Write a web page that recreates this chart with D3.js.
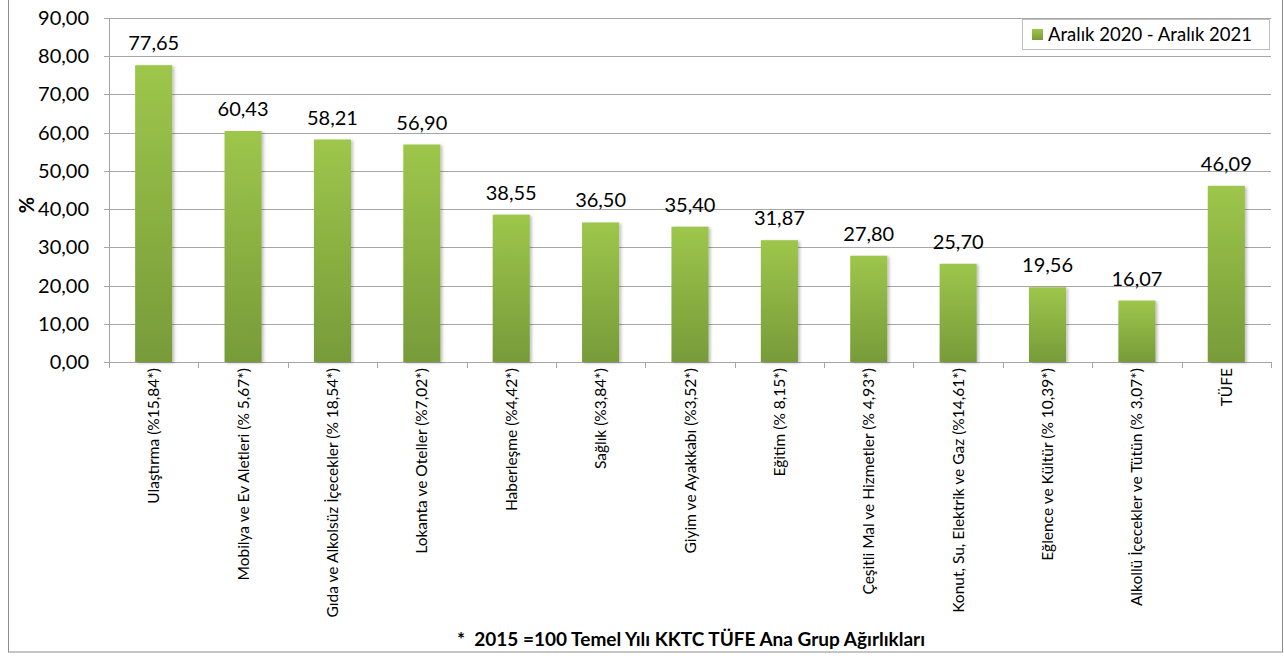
<!DOCTYPE html>
<html lang="tr">
<head>
<meta charset="UTF-8">
<title>KKTC TÜFE Ana Gruplar</title>
<script src="https://cdn.jsdelivr.net/npm/d3@7/dist/d3.min.js"></script>
<style>
  body { margin: 0; background: #fff; }
  svg text { font-family: Lato, "Open Sans", sans-serif; fill: #000; }
</style>
</head>
<body>
<svg id="chart" width="1284" height="656"></svg>
<script>
const categories = [
  "Ulaştırma (%15,84*)",
  "Mobilya ve Ev Aletleri (% 5,67*)",
  "Gıda ve Alkolsüz İçecekler (% 18,54*)",
  "Lokanta ve Oteller (%7,02*)",
  "Haberleşme (%4,42*)",
  "Sağlık (%3,84*)",
  "Giyim ve Ayakkabı (%3,52*)",
  "Eğitim (% 8,15*)",
  "Çeşitli Mal ve Hizmetler (% 4,93*)",
  "Konut, Su, Elektrik ve Gaz (%14,61*)",
  "Eğlence ve Kültür (% 10,39*)",
  "Alkollü İçecekler ve Tütün (% 3,07*)",
  "TÜFE"
];
const values = [77.65, 60.43, 58.21, 56.90, 38.55, 36.50, 35.40, 31.87, 27.80, 25.70, 19.56, 16.07, 46.09];
const yTicks = [0, 10, 20, 30, 40, 50, 60, 70, 80, 90];
const seriesName = "Aralık 2020 - Aralık 2021";
const footnote = "*\u00a0\u00a02015 =100 Temel Yılı KKTC TÜFE Ana Grup Ağırlıkları";

const svg = d3.select("#chart");
const fmt = v => v.toFixed(2).replace(".", ",");

const pLeft = 109, pRight = 1271, pTop = 18, pBottom = 362;

const x = d3.scaleBand().domain(categories).range([pLeft, pRight]).paddingInner(0.585).paddingOuter(0.2925);
const y = d3.scaleLinear().domain([0, 90]).range([pBottom, pTop]);

// outer frame
svg.append("rect").attr("x", 8.5).attr("y", -1).attr("width", 1274).attr("height", 653)
  .attr("fill", "none").attr("stroke", "#8c8c8c").attr("stroke-width", 1);

// gradient
const defs = svg.append("defs");
const grad = defs.append("linearGradient").attr("id", "barGrad")
  .attr("x1", 0).attr("y1", 0).attr("x2", 0).attr("y2", 1);
grad.append("stop").attr("offset", "0%").attr("stop-color", "#9dc64b");
grad.append("stop").attr("offset", "100%").attr("stop-color", "#779b39");
const shadow = defs.append("filter").attr("id", "shadow").attr("x", "-20%").attr("width", "150%");
shadow.append("feDropShadow").attr("dx", 2).attr("dy", 1).attr("stdDeviation", 1.5)
  .attr("flood-color", "#000").attr("flood-opacity", 0.25);

// grid
svg.append("g").selectAll("line").data(yTicks).join("line")
  .attr("x1", pLeft - 5).attr("x2", pRight)
  .attr("y1", d => Math.round(y(d)) + 0.5).attr("y2", d => Math.round(y(d)) + 0.5)
  .attr("stroke", "#a6a6a6");

// y axis line
svg.append("line").attr("x1", pLeft + 0.5).attr("x2", pLeft + 0.5).attr("y1", pTop).attr("y2", pBottom + 5)
  .attr("stroke", "#a6a6a6");

// y tick labels
svg.append("g").selectAll("text").data(yTicks).join("text")
  .attr("x", pLeft - 20).attr("y", d => y(d)).attr("dy", "0.35em")
  .attr("text-anchor", "end").attr("font-size", 20).text(fmt);

// x ticks
const step = x.step();
svg.append("g").selectAll("line").data(d3.range(categories.length + 1)).join("line")
  .attr("x1", i => Math.round(pLeft + i * step) + 0.5).attr("x2", i => Math.round(pLeft + i * step) + 0.5)
  .attr("y1", pBottom).attr("y2", pBottom + 6).attr("stroke", "#a6a6a6");

// bars
svg.append("g").selectAll("rect").data(values).join("rect")
  .attr("x", (d, i) => x(categories[i]))
  .attr("y", d => y(d))
  .attr("width", x.bandwidth())
  .attr("height", d => pBottom - y(d))
  .attr("fill", "url(#barGrad)")
  .attr("filter", "url(#shadow)");

// value labels
svg.append("g").selectAll("text").data(values).join("text")
  .attr("x", (d, i) => x(categories[i]) + x.bandwidth() / 2)
  .attr("y", d => y(d) - 15)
  .attr("text-anchor", "middle").attr("font-size", 20).text(fmt);

// category labels
svg.append("g").selectAll("text").data(categories).join("text")
  .attr("transform", d => `translate(${x(d) + x.bandwidth() / 2 + 5.5},${pBottom + 6}) rotate(-90)`)
  .attr("text-anchor", "end").attr("font-size", 15.5).text(d => d);

// y title
svg.append("text").attr("transform", `translate(34,${(pTop + pBottom) / 2 + 15}) rotate(-90)`)
  .attr("text-anchor", "middle").attr("font-size", 20).attr("font-weight", "bold").text("%");

// legend
const lg = svg.append("g");
lg.append("rect").attr("x", 1022.5).attr("y", 19.5).attr("width", 247).attr("height", 30)
  .attr("fill", "#fff").attr("stroke", "#bfbfbf");
lg.append("rect").attr("x", 1032).attr("y", 29).attr("width", 11).attr("height", 11).attr("fill", "url(#barGrad)");
lg.append("text").attr("x", 1048).attr("y", 35).attr("dy", "0.35em").attr("font-size", 18.5).text(seriesName);

// footnote
svg.append("text").attr("x", 691).attr("y", 646).attr("text-anchor", "middle")
  .attr("font-size", 19).attr("font-weight", "bold").text(footnote);
</script>
</body>
</html>
